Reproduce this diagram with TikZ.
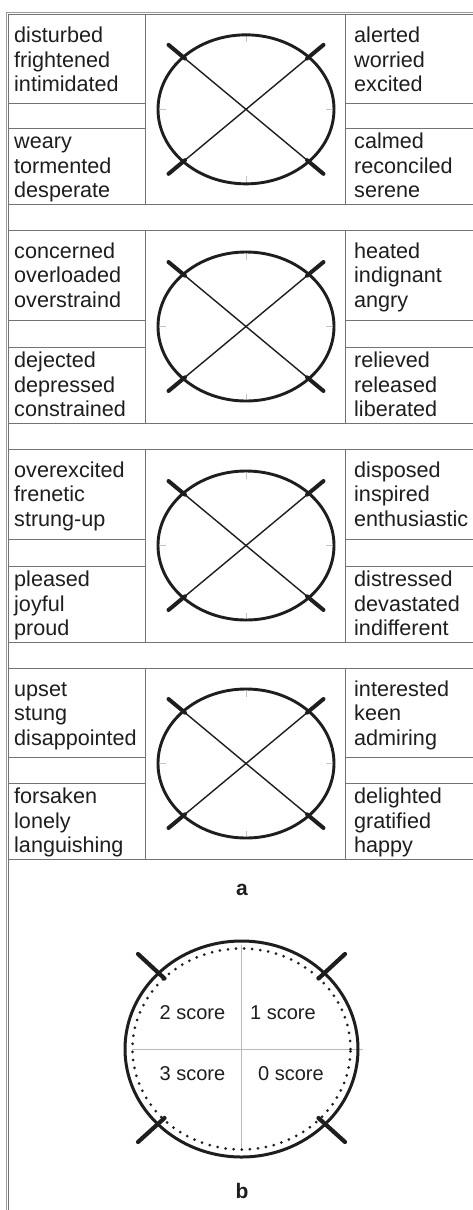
\documentclass[tikz,border=0pt]{standalone}
\usepackage{fontspec}
\setmainfont{Liberation Sans}
\definecolor{tgray}{HTML}{737373}
\definecolor{bgray}{HTML}{9A9A9A}
\definecolor{ink}{HTML}{1E1E1E}
\definecolor{tickgray}{HTML}{C4C4C4}
\tikzset{
  tline/.style={draw=tgray,line width=1pt},
  border/.style={draw=bgray,line width=1pt},
  cell/.style={anchor=north west,inner sep=0pt,align=left,text=ink,
    font=\fontsize{21.6}{24.5}\selectfont},
  ring/.style={draw=ink,line width=2.9pt},
  thincross/.style={draw=ink,line width=1.4pt},
  thickend/.style={draw=ink,line width=4pt,line cap=round},
  dialtick/.style={draw=tickgray,line width=0.9pt},
  scorelbl/.style={inner sep=0pt,text=ink,font=\fontsize{20}{22}\selectfont},
  partlbl/.style={anchor=base,inner sep=0pt,text=ink,font=\fontsize{21}{22}\selectfont\bfseries},
}
\newcommand\EmoBlock[9]{%
  \draw[tline] (8.3,#2) -- (473,#2);
  \draw[tline] (8.3,#5) -- (473,#5);
  \draw[tline] (8.3,#3) -- (145,#3) (8.3,#4) -- (145,#4);
  \draw[tline] (345,#3) -- (473,#3) (345,#4) -- (473,#4);
  \draw[tline] (145,#2) -- (145,#5) (345,#2) -- (345,#5);
  \node[cell] (ul#1) at (14,#2+11.5) {\rule{0pt}{16.5pt}#6};
  \node[cell] (ll#1) at (14,#4+4) {\rule{0pt}{16.5pt}#7};
  \node[cell] (ur#1) at (354,#2+11.5) {\rule{0pt}{16.5pt}#8};
  \node[cell] (lr#1) at (354,#4+4) {\rule{0pt}{16.5pt}#9};
  \begin{scope}[shift={(246,{(#2+#5)/2})}]
    \draw[dialtick] (0,-74.5) -- (0,-67) (0,74.5) -- (0,67)
                    (-88,0) -- (-80,0) (88,0) -- (80,0);
    \draw[thincross] (-77.5,-64.5) -- (77.5,64.5) (-77.5,64.5) -- (77.5,-64.5);
    \draw[thickend] (-77.5,-64.5) -- (-61,-50.8);
    \draw[thickend] (77.5,-64.5) -- (61,-50.8);
    \draw[thickend] (-77.5,64.5) -- (-61,50.8);
    \draw[thickend] (77.5,64.5) -- (61,50.8);
    \draw[ring] (0,0) ellipse [x radius=88pt, y radius=74.5pt];
  \end{scope}
}
\begin{document}
\begin{tikzpicture}[x=1pt,y=-1pt]
  \useasboundingbox[fill=white] (0,0) rectangle (473,1210);
  % outer frame (double line, left and top)
  \draw[border] (6.7,1210) -- (6.7,12.3) -- (473,12.3);
  \draw[tline] (8.3,1210) -- (8.3,14.7) -- (473,14.7);
  \EmoBlock{1}{14.7}{103}{128}{204}%
    {disturbed\\frightened\\intimidated}{weary\\tormented\\desperate}%
    {alerted\\worried\\excited}{calmed\\reconciled\\serene}
  \EmoBlock{2}{230}{320}{347}{423}%
    {concerned\\overloaded\\overstraind}{dejected\\depressed\\constrained}%
    {heated\\indignant\\angry}{relieved\\released\\liberated}
  \EmoBlock{3}{449}{539}{566}{642}%
    {overexcited\\frenetic\\strung-up}{pleased\\joyful\\proud}%
    {disposed\\inspired\\enthusiastic}{distressed\\devastated\\indifferent}
  \EmoBlock{4}{668}{757}{783}{859}%
    {upset\\stung\\disappointed}{forsaken\\lonely\\languishing}%
    {interested\\keen\\admiring}{delighted\\gratified\\happy}
  \node[partlbl] (la) at (242,895) {a};
  % part b
  \begin{scope}[shift={(241.5,1049)}]
    \draw[draw=gray!55,line width=1pt] (-109.5,0) -- (121.5,0) (0,-104) -- (0,101);
    \draw[draw=ink,line width=3pt,line cap=round,dash pattern=on 0pt off 8.1pt]
      (0,0) ellipse [x radius=109pt, y radius=100.5pt];
    \draw[draw=ink,line width=3pt] (0,0) ellipse [x radius=116.5pt, y radius=108pt];
    \draw[thickend,line width=4.2pt] (-103.5,-95) -- (-77,-70.5);
    \draw[thickend,line width=4.2pt] (103.5,-95) -- (77,-70.5);
    \draw[thickend,line width=4.2pt] (-103.5,93) -- (-77,69);
    \draw[thickend,line width=4.2pt] (103.5,93) -- (77,69);
  \end{scope}
  \node[scorelbl] (s2) at (192.5,1013) {2 score};
  \node[scorelbl] (s1) at (283,1013) {1 score};
  \node[scorelbl] (s3) at (192.5,1074) {3 score};
  \node[scorelbl] (s0) at (291,1074) {0 score};
  \node[partlbl] (lb) at (242,1198) {b};
\end{tikzpicture}
\end{document}
